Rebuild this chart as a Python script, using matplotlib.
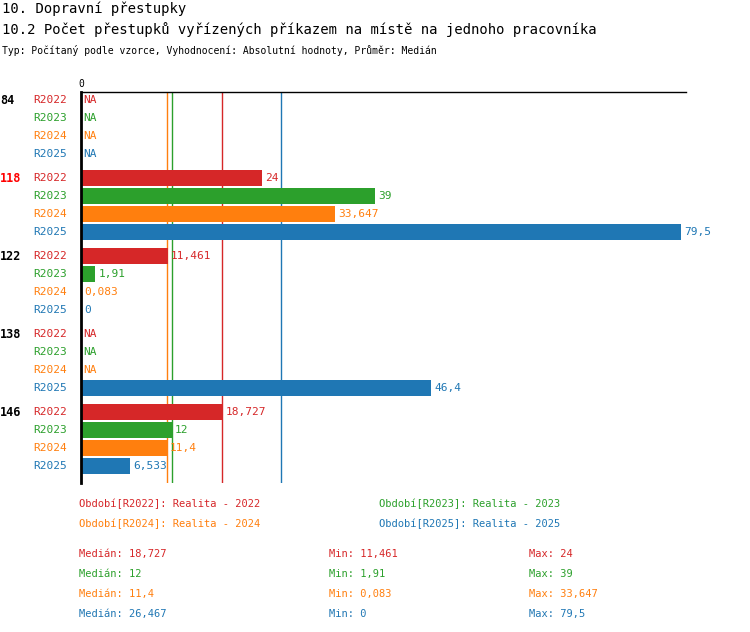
import numpy as np
import matplotlib.pyplot as plt

plt.rcParams['font.family'] = ['DejaVu Sans Mono']

groups = ['84', '118', '122', '138', '146']
series = ['R2022', 'R2023', 'R2024', 'R2025']
colors = ['#d62728', '#2ca02c', '#ff7f0e', '#1f77b4']
values = [
    [None, None, None, None],
    [24, 39, 33.647, 79.5],
    [11.461, 1.91, 0.083, 0],
    [None, None, None, 46.4],
    [18.727, 12, 11.4, 6.533],
]
medians = [18.727, 12, 11.4, 26.467]
mins = [11.461, 1.91, 0.083, 0]
maxs = [24, 39, 33.647, 79.5]
periods = ['Období[R2022]: Realita - 2022', 'Období[R2023]: Realita - 2023',
           'Období[R2024]: Realita - 2024', 'Období[R2025]: Realita - 2025']

def fmt(v):
    return ('%g' % round(v, 3)).replace('.', ',')

W, H = 750, 632
fig = plt.figure(figsize=(W / 100, H / 100), dpi=100)
ax = fig.add_axes([81 / W, 1 - 483 / H, (686 - 81) / W, (483 - 92) / H])
scale = 7.55
ax.set_xlim(0, (686 - 81) / scale)
ax.set_ylim(483, 92)

for i, m in enumerate(medians):
    ax.axvline(m, color=colors[i], lw=1, zorder=1)

for g, gname in enumerate(groups):
    for r, s in enumerate(series):
        y = 100 + g * 78 + r * 18
        v = values[g][r]
        ax.text(-1.8, y, s, color=colors[r], ha='right', va='center', fontsize=8)
        if v is None:
            ax.text(0.3, y, 'NA', color=colors[r], ha='left', va='center', fontsize=8)
        else:
            ax.barh(y, v, height=16, color=colors[r], zorder=2)
            ax.text(v + 0.4, y, fmt(v), color=colors[r], ha='left', va='center', fontsize=8)
    ax.text(-10.7, 100 + g * 78, gname, color='red' if gname == '118' else 'black',
            ha='left', va='center', fontsize=8.5, fontweight='bold')

for sp in ['right', 'bottom']:
    ax.spines[sp].set_visible(False)
ax.spines['left'].set_linewidth(2)
ax.spines['top'].set_linewidth(1)
ax.set_yticks([])
ax.set_xticks([0])
ax.xaxis.tick_top()
ax.tick_params(axis='x', length=0, labelsize=7, pad=2)

fig.text(2 / W, 1 - 9 / H, '10. Dopravní přestupky', fontsize=10, va='center')
fig.text(2 / W, 1 - 30 / H, '10.2 Počet přestupků vyřízených příkazem na místě na jednoho pracovníka',
         fontsize=10, va='center')
fig.text(2 / W, 1 - 50 / H, 'Typ: Počítaný podle vzorce, Vyhodnocení: Absolutní hodnoty, Průměr: Medián',
         fontsize=7, va='center')

for i, p in enumerate(periods):
    x = 79 if i % 2 == 0 else 379
    y = 504 + (i // 2) * 20
    fig.text(x / W, 1 - y / H, p, color=colors[i], fontsize=7.5, va='center')

for i in range(4):
    y = 554 + i * 20
    fig.text(79 / W, 1 - y / H, 'Medián: ' + fmt(medians[i]), color=colors[i], fontsize=7.5, va='center')
    fig.text(329 / W, 1 - y / H, 'Min: ' + fmt(mins[i]), color=colors[i], fontsize=7.5, va='center')
    fig.text(529 / W, 1 - y / H, 'Max: ' + fmt(maxs[i]), color=colors[i], fontsize=7.5, va='center')

fig.savefig('out.png', dpi=100)
